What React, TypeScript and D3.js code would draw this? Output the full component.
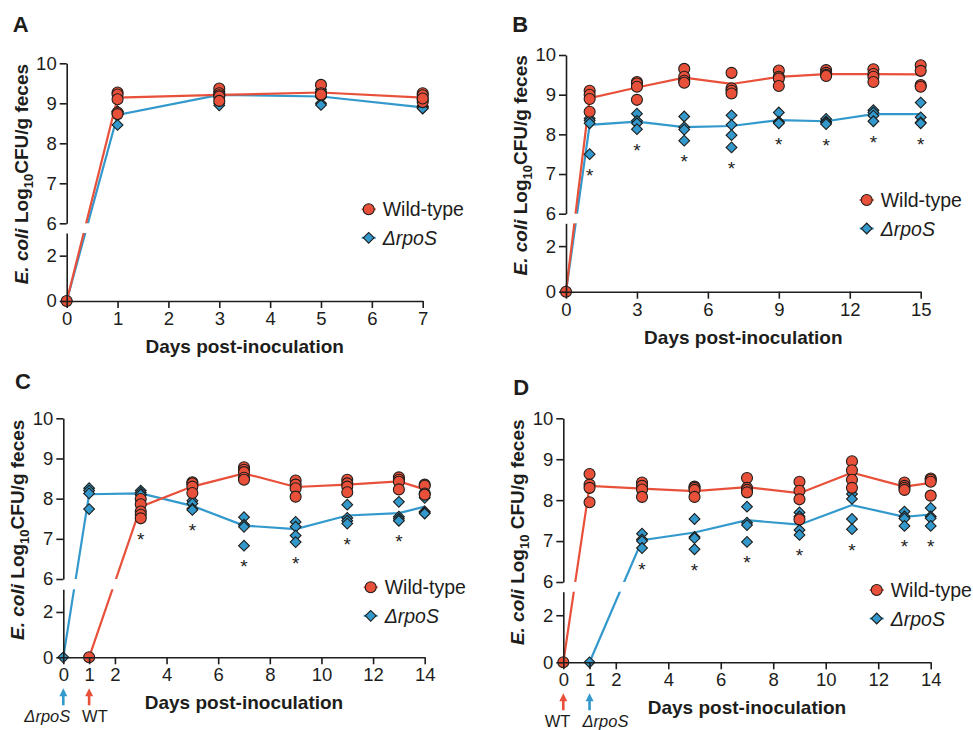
import React, { useRef, useEffect } from "react";
import { select, scaleLinear, axisLeft, axisBottom, line, symbol, symbolSquare, min, format } from "d3";

const RED = "#e8503a";
const BLUE = "#3399cc";
const INK = "#1d1d1b";
const FONT = "'Liberation Sans', Arial, Helvetica, sans-serif";

// ---- panel A ----
const aDays = [0, 1, 3, 5, 7];
const aWT = [[0], [9.27, 9.22, 9.1, 8.77, 8.73], [9.37, 9.25, 9.2, 9.17, 9.06], [9.46, 9.22, 9.25, 9.2, 9.22], [9.25, 9.2, 9.1, 9.03, 9.12]];
const aWTMean = [0, 9.14, 9.21, 9.27, 9.14];
const aRpoS = [[0], [8.8, 8.8, 8.78, 8.72, 8.46], [9.3, 9.3, 9.2, 9.0, 8.95], [9.35, 9.3, 9.25, 9.0, 8.96], [8.93, 8.92, 8.9, 8.88, 8.87]];
const aRpoSMean = [0, 8.71, 9.21, 9.17, 8.9];
const aStars: number[] = [];
const aTicks = [0, 1, 2, 3, 4, 5, 6, 7];

// ---- panel B ----
const bDays = [0, 1, 3, 5, 7, 9, 11, 13, 15];
const bWT = [[0], [9.1, 9.0, 8.89, 8.57], [9.32, 9.28, 9.2, 8.87], [9.65, 9.45, 9.35, 9.3], [9.55, 9.16, 9.1, 9.03], [9.61, 9.45, 9.41, 9.22], [9.62, 9.55, 9.5, 9.47], [9.64, 9.52, 9.45, 9.32], [9.74, 9.6, 9.24, 9.2]];
const bWTMean = [0, 8.91, 9.18, 9.43, 9.27, 9.45, 9.52, 9.52, 9.51];
const bRpoS = [[0], [8.4, 8.35, 8.28, 7.5], [8.52, 8.34, 8.28, 8.13], [8.45, 8.18, 8.12, 7.84], [8.48, 8.24, 7.98, 7.67], [8.55, 8.32, 8.3, 8.28], [8.39, 8.32, 8.3, 8.26], [8.61, 8.55, 8.47, 8.33], [8.8, 8.43, 8.3, 8.28]];
const bRpoSMean = [0, 8.24, 8.32, 8.18, 8.21, 8.36, 8.33, 8.51, 8.51];
const bStars = [1, 3, 5, 7, 9, 11, 13, 15];
const bTicks = [0, 3, 6, 9, 12, 15];

// ---- panel C ----
const cWTDays = [1, 3, 5, 7, 9, 11, 13, 14];
const cWT = [[0], [7.99, 7.86, 7.68, 7.6, 7.51], [8.41, 8.38, 8.3, 8.14], [8.78, 8.72, 8.66, 8.52, 8.47], [8.45, 8.35, 8.26, 8.05], [8.47, 8.38, 8.3, 8.16], [8.53, 8.47, 8.42, 8.23], [8.35, 8.32, 8.13, 8.1]];
const cWTMean = [0, 7.8, 8.3, 8.63, 8.29, 8.35, 8.43, 8.23];
const cRpoSDays = [0, 1, 3, 5, 7, 9, 11, 13, 14];
const cRpoS = [[0], [8.26, 8.2, 8.13, 7.74], [8.2, 8.15, 8.1, 8.1], [7.95, 7.88, 7.75, 7.72], [7.54, 7.35, 7.3, 6.83], [7.42, 7.3, 7.08, 6.92], [7.85, 7.52, 7.45, 7.38], [7.92, 7.55, 7.5, 7.45], [8.02, 7.68, 7.65, 7.63]];
const cRpoSMean = [0, 8.11, 8.13, 7.82, 7.33, 7.24, 7.58, 7.64, 7.8];
const cStars = [3, 5, 7, 9, 11, 13];
const cdTicks = [0, 1, 2, 4, 6, 8, 10, 12, 14];

// ---- panel D ----
const dWTDays = [0, 1, 3, 5, 7, 9, 11, 13, 14];
const dWT = [[0], [8.64, 8.38, 8.3, 7.95], [8.43, 8.35, 8.26, 8.08], [8.33, 8.3, 8.25, 8.08], [8.54, 8.3, 8.25, 8.19], [8.45, 8.23, 8.02, 7.53], [8.95, 8.73, 8.5, 8.3], [8.43, 8.35, 8.3, 8.25], [8.53, 8.5, 8.45, 8.11]];
const dWTMean = [0, 8.35, 8.28, 8.22, 8.32, 8.17, 8.67, 8.33, 8.42];
const dRpoSDays = [1, 3, 5, 7, 9, 11, 13, 14];
const dRpoS = [[0], [7.18, 7.04, 7.0, 6.83], [7.54, 7.1, 7.07, 6.8], [7.84, 7.45, 7.39, 6.98], [7.7, 7.6, 7.27, 7.15], [8.15, 8.03, 7.54, 7.29], [7.72, 7.6, 7.55, 7.37], [7.81, 7.6, 7.56, 7.37]];
const dRpoSMean = [0, 7.02, 7.21, 7.51, 7.4, 7.88, 7.59, 7.65];
const dStars = [3, 5, 7, 9, 11, 13, 14];

const upperTicks = [6, 7, 8, 9, 10];
const lowerTicks = [0, 2];

type Series = { days: number[]; points: number[][]; means: number[] };
type Arrow = { day: number; color: string; label: string; italic: boolean; side: "left" | "right" };
type PanelProps = {
  letter: string; lx: number; ly: number;
  x0: number; x1: number; xMax: number; xTicks: number[];
  y10: number; y6: number; lowTop: number; y0: number;
  wt: Series; rpoS: Series; stars: number[];
  legendY: number; spaced?: boolean; arrows?: Arrow[];
};

const diamond = symbol().type(symbolSquare).size(58)();
const intFmt = format("d");

function Panel(p: PanelProps) {
  const upRef = useRef<SVGGElement>(null);
  const lowRef = useRef<SVGGElement>(null);
  const xRef = useRef<SVGGElement>(null);

  const x = scaleLinear().domain([0, p.xMax]).range([p.x0, p.x1]);
  const yUp = scaleLinear().domain([6, 10]).range([p.y6, p.y10]);
  const yLow = scaleLinear().domain([0, 3]).range([p.y0, p.lowTop]);
  const y = (v: number) => (v <= 3 ? yLow(v) : yUp(v));

  useEffect(() => {
    const style = (g: any) => {
      g.attr("font-family", null).attr("font-size", null);
      g.selectAll("path, line").attr("stroke", INK).attr("stroke-width", 1.6);
      g.selectAll("text").attr("font-size", 18.5).attr("font-family", FONT).attr("fill", INK);
    };
    select(upRef.current).call(axisLeft(yUp).tickValues(upperTicks).tickFormat(intFmt as any).tickSize(7).tickSizeOuter(0).tickPadding(3) as any).call(style);
    select(lowRef.current).call(axisLeft(yLow).tickValues(lowerTicks).tickFormat(intFmt as any).tickSize(7).tickSizeOuter(0).tickPadding(3) as any).call(style);
    select(xRef.current).call(axisBottom(x).tickValues(p.xTicks).tickFormat(intFmt as any).tickSize(7).tickSizeOuter(0).tickPadding(4) as any).call(style);
  }, []);

  const mkLine = (s: Series) =>
    line<number>().x((d, i) => x(s.days[i])).y((d) => y(d))(s.means) || "";

  const starY = (day: number) => {
    const vals: number[] = [];
    [p.wt, p.rpoS].forEach((s) => {
      const i = s.days.indexOf(day);
      if (i >= 0) vals.push(...s.points[i]);
    });
    return y(min(vals) as number) + 17;
  };

  const legX = p.x1 - 54;
  const titleX = p.x0 - 39;
  const titleY = (p.y10 + p.y0) / 2 - 8;

  const circles = (s: Series) =>
    s.days.flatMap((d, i) =>
      s.points[i].map((v, j) => (
        <circle key={`${d}-${j}`} cx={x(d)} cy={y(v)} r={5.5} fill={RED} stroke={INK} strokeWidth={1.1} />
      ))
    );
  const diamonds = (s: Series) =>
    s.days.flatMap((d, i) =>
      s.points[i].map((v, j) => (
        <path key={`${d}-${j}`} d={diamond} transform={`translate(${x(d)},${y(v)}) rotate(45)`} fill={BLUE} stroke={INK} strokeWidth={1.1} />
      ))
    );

  return (
    <g fontFamily={FONT} fill={INK}>
      <text x={p.lx} y={p.ly} fontSize={22} fontWeight="bold">{p.letter}</text>

      <path d={mkLine(p.rpoS)} fill="none" stroke={BLUE} strokeWidth={2.2} />
      <path d={mkLine(p.wt)} fill="none" stroke={RED} strokeWidth={2.2} />
      <rect x={p.x0 + 1} y={p.y6} width={p.x1 - p.x0} height={p.lowTop - p.y6} fill="#fff" />

      <g>{diamonds(p.rpoS)}</g>
      <g>{circles(p.wt)}</g>

      {p.stars.map((d) => (
        <text key={d} x={x(d)} y={starY(d) + 10.5} fontSize={19} textAnchor="middle">*</text>
      ))}

      <g ref={upRef} transform={`translate(${p.x0},0)`} />
      <g ref={lowRef} transform={`translate(${p.x0},0)`} />
      <g ref={xRef} transform={`translate(0,${p.y0})`} />

      <text x={(p.x0 + p.x1) / 2} y={p.y0 + 52} fontSize={19} fontWeight="bold" textAnchor="middle">
        Days post-inoculation
      </text>

      <text transform={`translate(${titleX},${titleY}) rotate(-90)`} fontSize={19} fontWeight="bold" textAnchor="middle">
        <tspan fontStyle="italic">E. coli</tspan>
        <tspan> Log</tspan>
        <tspan fontSize={13} dy={5}>10</tspan>
        <tspan dy={-5}>{p.spaced ? " CFU/g feces" : "CFU/g feces"}</tspan>
      </text>

      <g transform={`translate(${legX},${p.legendY})`}>
        <line x1={-7} x2={7} stroke={RED} strokeWidth={2} />
        <circle r={5.5} fill={RED} stroke={INK} strokeWidth={1.1} />
        <text x={14} y={7} fontSize={19.5}>Wild-type</text>
        <line x1={-7} x2={7} y1={28.5} y2={28.5} stroke={BLUE} strokeWidth={2} />
        <path d={diamond} transform="translate(0,28.5) rotate(45)" fill={BLUE} stroke={INK} strokeWidth={1.1} />
        <text x={14} y={35.5} fontSize={19.5} fontStyle="italic">ΔrpoS</text>
      </g>

      {(p.arrows || []).map((a) => (
        <g key={a.label} transform={`translate(${x(a.day)},${p.y0})`}>
          <line x1={0} x2={0} y1={38} y2={48} stroke={a.color} strokeWidth={2.6} />
          <path d="M0,31 L4,39 L-4,39 Z" fill={a.color} />
          <text
            x={a.side === "left" ? 7 : -7}
            y={65}
            fontSize={16.5}
            fontStyle={a.italic ? "italic" : "normal"}
            textAnchor={a.side === "left" ? "end" : "start"}
          >
            {a.label}
          </text>
        </g>
      ))}
    </g>
  );
}

export default function App() {
  return (
    <svg width={973} height={730} style={{ position: "absolute", left: 0, top: 0, background: "#fff" }}>
      <Panel
        letter="A" lx={12.7} ly={32.3}
        x0={66.7} x1={422.7} xMax={7} xTicks={aTicks}
        y10={63.3} y6={223.3} lowTop={233} y0={301}
        wt={{ days: aDays, points: aWT, means: aWTMean }}
        rpoS={{ days: aDays, points: aRpoS, means: aRpoSMean }}
        stars={aStars} legendY={209.3}
      />
      <Panel
        letter="B" lx={512.3} ly={32.3}
        x0={566} x1={920.7} xMax={15} xTicks={bTicks}
        y10={55} y6={213.7} lowTop={223.3} y0={291.7}
        wt={{ days: bDays, points: bWT, means: bWTMean }}
        rpoS={{ days: bDays, points: bRpoS, means: bRpoSMean }}
        stars={bStars} legendY={200}
      />
      <Panel
        letter="C" lx={15} ly={389}
        x0={63.3} x1={424.7} xMax={14} xTicks={cdTicks}
        y10={418.3} y6={579} lowTop={589.3} y0={657.3}
        wt={{ days: cWTDays, points: cWT, means: cWTMean }}
        rpoS={{ days: cRpoSDays, points: cRpoS, means: cRpoSMean }}
        stars={cStars} legendY={587.3}
        arrows={[
          { day: 0, color: BLUE, label: "ΔrpoS", italic: true, side: "left" },
          { day: 1, color: RED, label: "WT", italic: false, side: "right" },
        ]}
      />
      <Panel
        letter="D" lx={513.3} ly={395}
        x0={563.3} x1={930.7} xMax={14} xTicks={cdTicks}
        y10={418.3} y6={582} lowTop={591.7} y0={662.3}
        wt={{ days: dWTDays, points: dWT, means: dWTMean }}
        rpoS={{ days: dRpoSDays, points: dRpoS, means: dRpoSMean }}
        stars={dStars} legendY={590} spaced
        arrows={[
          { day: 0, color: RED, label: "WT", italic: false, side: "left" },
          { day: 1, color: BLUE, label: "ΔrpoS", italic: true, side: "right" },
        ]}
      />
    </svg>
  );
}
